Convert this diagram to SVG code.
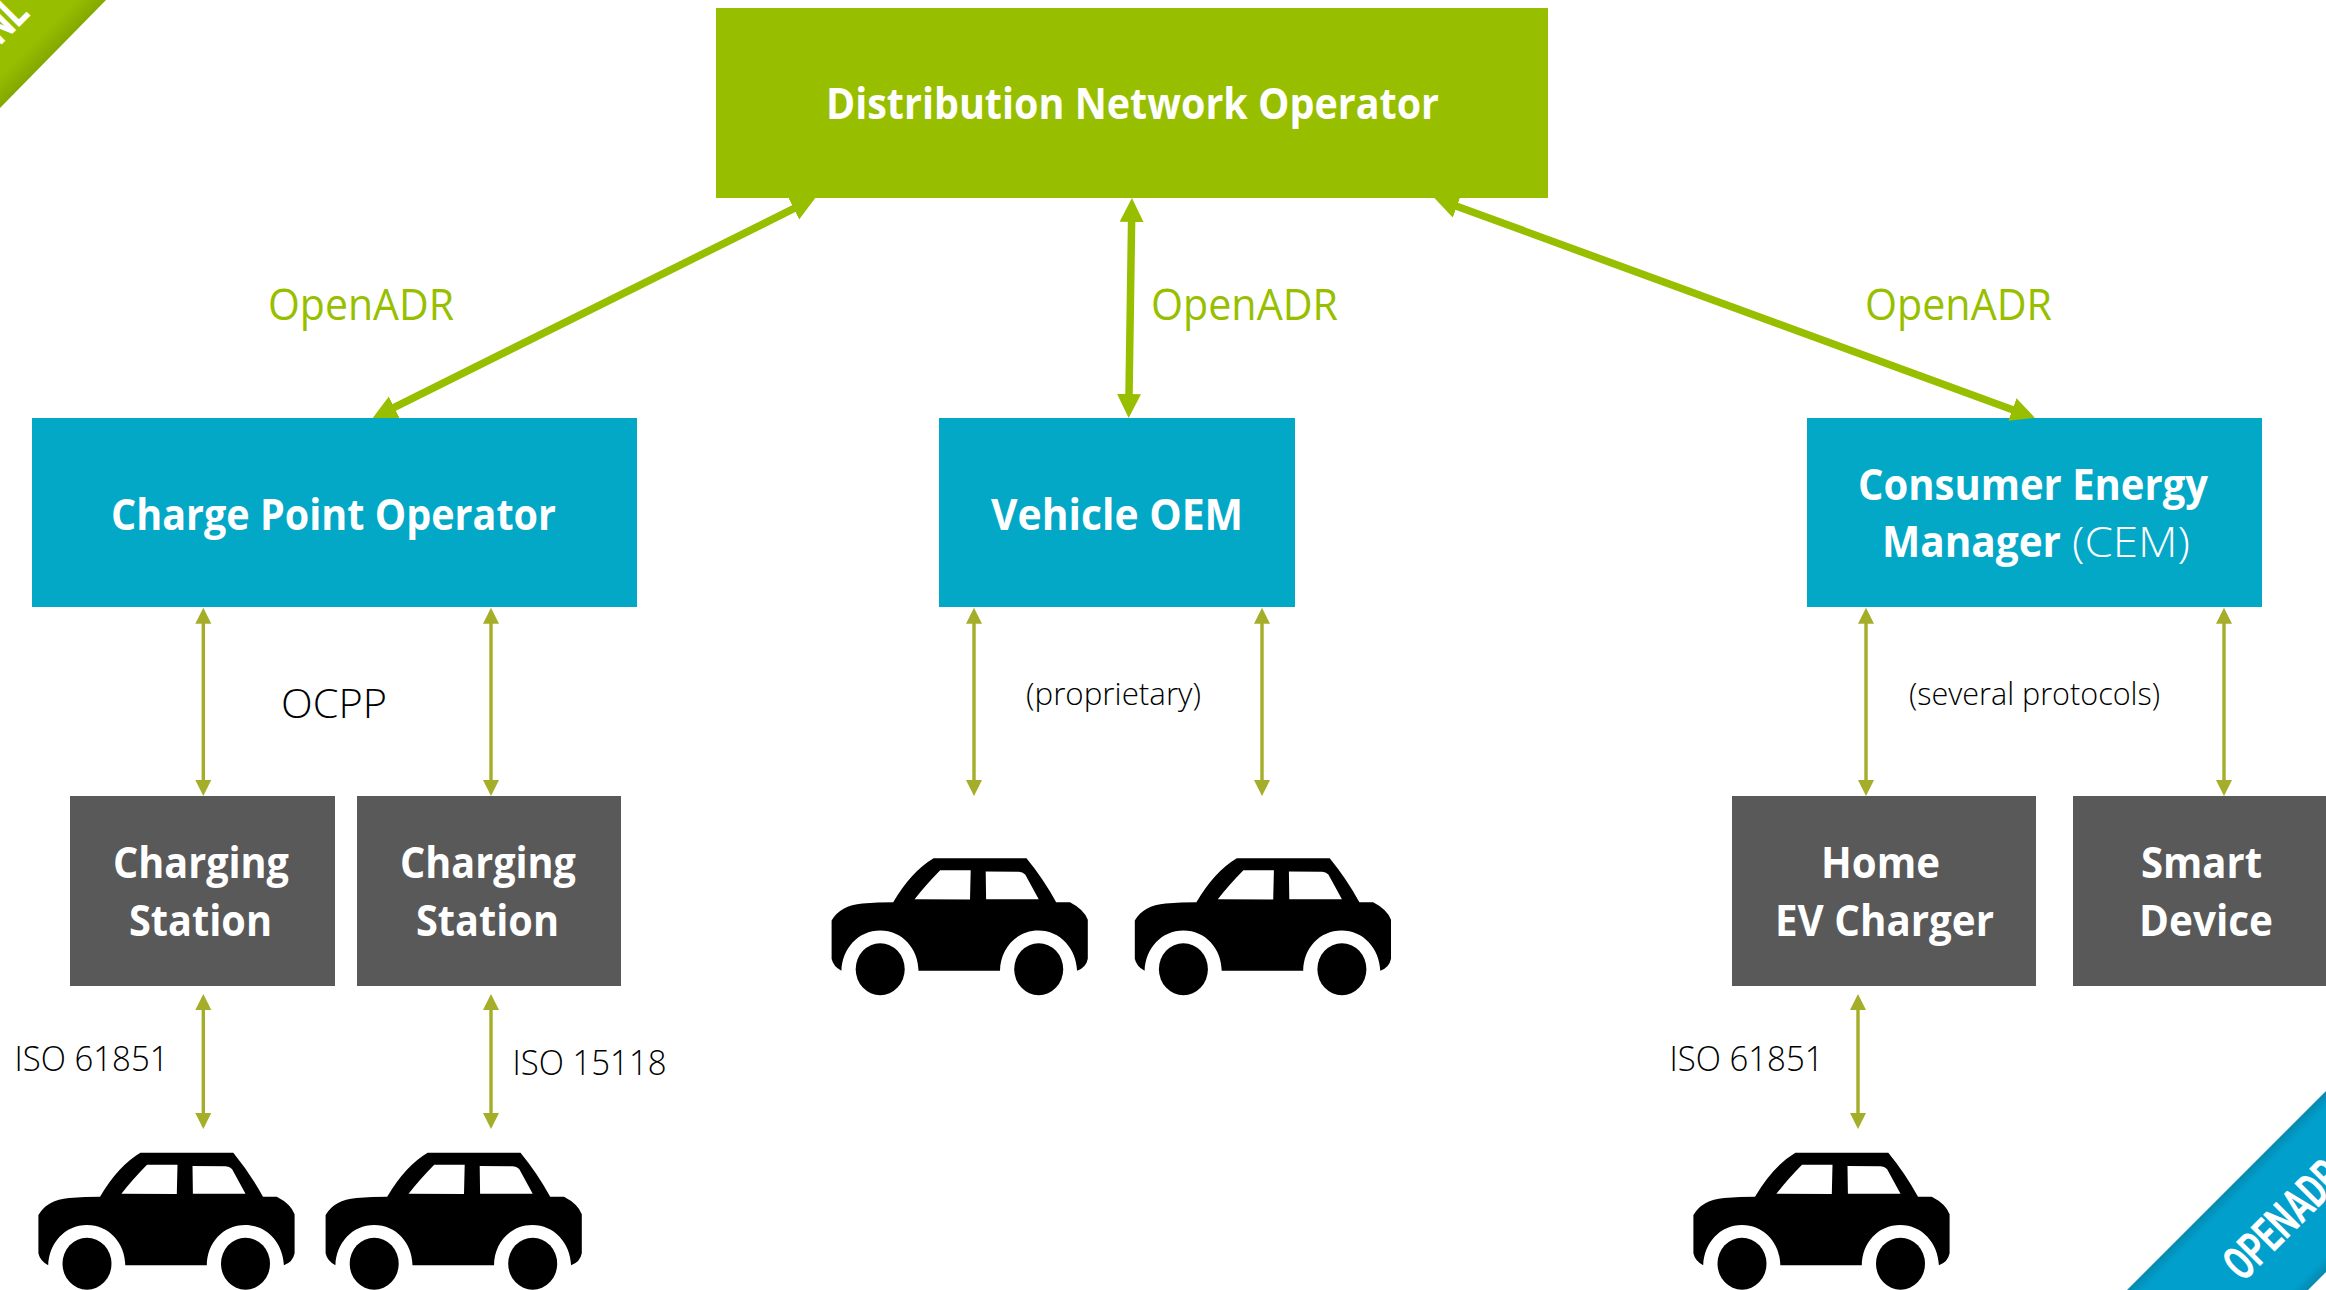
<svg xmlns="http://www.w3.org/2000/svg" width="2326" height="1290" viewBox="0 0 2326 1290">
<style>
text{font-family:"Open Sans","Noto Sans","Liberation Sans",sans-serif}
.box-g{fill:#97BF00}.box-b{fill:#03A8C7}.box-d{fill:#595959}
.t{font-size:43px;font-weight:700;fill:#fff}
.tl{font-size:43px;font-weight:300;fill:#fff}
.adr{font-size:44px;font-weight:400;fill:#97BF00}
.lbl{font-weight:300;fill:#000}
.thick{stroke:#97BF00;stroke-width:7.5;fill:none;marker-start:url(#mThick);marker-end:url(#mThick)}
.thin{stroke:#A4AE28;stroke-width:3.4;fill:none;marker-start:url(#mThin);marker-end:url(#mThin)}
.rib{font-family:"Roboto","Liberation Sans",sans-serif;font-weight:700;font-size:48px;fill:#fff}
</style>
<defs>
<marker id="mThick" markerUnits="userSpaceOnUse" markerWidth="26" markerHeight="26" refX="1" refY="12" orient="auto-start-reverse"><path d="M0,0L24,12L0,24z" fill="#97BF00"/></marker>
<marker id="mThin" markerUnits="userSpaceOnUse" markerWidth="18" markerHeight="18" refX="1" refY="8" orient="auto-start-reverse"><path d="M0,0L16,8L0,16z" fill="#A4AE28"/></marker>
<linearGradient id="gG" gradientUnits="userSpaceOnUse" x1="53.5" y1="53.5" x2="38" y2="38"><stop offset="0" stop-color="#84A800"/><stop offset="1" stop-color="#97BF00"/></linearGradient>
<linearGradient id="gB" gradientUnits="userSpaceOnUse" x1="2272" y1="1145" x2="2362.5" y2="1235.5"><stop offset="0" stop-color="#0689B0"/><stop offset="0.09" stop-color="#009FCC"/><stop offset="0.91" stop-color="#009FCC"/><stop offset="1" stop-color="#0689B0"/></linearGradient>
<g id="car">
<path fill-rule="evenodd" d="M140.4,52.7L233.3,52.7Q250,73 263,96.7L276.8,96.7Q291,104 294.6,114.3L294.6,153.3Q293,162 283.9,165.3C283,143 267,125 245.2,125C223,125 207,143 206.8,165.3L125.3,165.3C125,143 109,125 87,125C65,125 49,143 48.2,165.3Q40,161 38.4,153.3L38.4,115Q47,100 69.2,98Q85,96.7 100,96.7Q118,66 140.4,52.7ZM147,64.7Q132,80 121.4,93.7L176.8,94L177.5,64.7ZM192.5,66L192.9,93.7L245.5,93.7L232,69Q229,66 225,66.3Z"/>
<ellipse cx="87" cy="163.7" rx="24.5" ry="26"/><ellipse cx="245.5" cy="163.7" rx="24.5" ry="26"/>
</g>
</defs>
<rect width="2326" height="1290" fill="#fff"/>

<g id="ribbon-green"><path d="M0,0H106L0,108z" fill="url(#gG)"/><text class="rib" x="0" y="46" textLength="44" lengthAdjust="spacingAndGlyphs" transform="rotate(-45 0 46)">NL</text></g>
<g id="ribbon-blue"><path d="M2326,1091V1272L2308,1290H2127z" fill="url(#gB)"/><text class="rib" x="2243" y="1283" textLength="146" lengthAdjust="spacingAndGlyphs" transform="rotate(-45 2243 1283)">OPENADR</text></g>

<g id="node-dno"><rect class="box-g" x="716" y="8" width="832" height="190"/><text class="t" x="826" y="119" textLength="613" lengthAdjust="spacingAndGlyphs">Distribution Network Operator</text></g>
<g id="node-cpo"><rect class="box-b" x="32" y="418" width="605" height="189"/><text class="t" x="111" y="530" textLength="445" lengthAdjust="spacingAndGlyphs">Charge Point Operator</text></g>
<g id="node-oem"><rect class="box-b" x="939" y="418" width="356" height="189"/><text class="t" x="991" y="530" textLength="252" lengthAdjust="spacingAndGlyphs">Vehicle OEM</text></g>
<g id="node-cem"><rect class="box-b" x="1807" y="418" width="455" height="189"/><text class="t" x="1858" y="500" textLength="350" lengthAdjust="spacingAndGlyphs">Consumer Energy</text><text class="t" x="1882" y="557" textLength="179" lengthAdjust="spacingAndGlyphs">Manager</text><text class="tl" x="2072" y="557" textLength="118" lengthAdjust="spacingAndGlyphs">(CEM)</text></g>
<g id="node-cs1"><rect class="box-d" x="70" y="796" width="265" height="190"/><text class="t" x="113" y="878" textLength="176" lengthAdjust="spacingAndGlyphs">Charging</text><text class="t" x="129" y="936" textLength="143" lengthAdjust="spacingAndGlyphs">Station</text></g>
<g id="node-cs2"><rect class="box-d" x="357" y="796" width="264" height="190"/><text class="t" x="400" y="878" textLength="176" lengthAdjust="spacingAndGlyphs">Charging</text><text class="t" x="416" y="936" textLength="143" lengthAdjust="spacingAndGlyphs">Station</text></g>
<g id="node-home"><rect class="box-d" x="1732" y="796" width="304" height="190"/><text class="t" x="1821" y="878" textLength="119" lengthAdjust="spacingAndGlyphs">Home</text><text class="t" x="1775" y="936" textLength="219" lengthAdjust="spacingAndGlyphs">EV Charger</text></g>
<g id="node-smart"><rect class="box-d" x="2073" y="796" width="253" height="190"/><text class="t" x="2141" y="878" textLength="121" lengthAdjust="spacingAndGlyphs">Smart</text><text class="t" x="2139" y="936" textLength="134" lengthAdjust="spacingAndGlyphs">Device</text></g>

<g id="connectors">
<line class="thick" x1="393.3" y1="407.8" x2="794.7" y2="208.2"/>
<line class="thick" x1="1131.6" y1="221" x2="1129" y2="395"/>
<line class="thick" x1="1456" y1="206" x2="2013.3" y2="409.9"/>
<line class="thin" x1="203.3" y1="622.7" x2="203.3" y2="781"/>
<line class="thin" x1="491" y1="622.7" x2="491" y2="781"/>
<line class="thin" x1="974" y1="622.7" x2="974" y2="781"/>
<line class="thin" x1="1262" y1="622.7" x2="1262" y2="781"/>
<line class="thin" x1="1866" y1="622.7" x2="1866" y2="781"/>
<line class="thin" x1="2224" y1="622.7" x2="2224" y2="781"/>
<line class="thin" x1="203.3" y1="1009" x2="203.3" y2="1114"/>
<line class="thin" x1="491" y1="1009" x2="491" y2="1114"/>
<line class="thin" x1="1858" y1="1009" x2="1858" y2="1114"/>
</g>

<g id="labels">
<text class="adr" x="268" y="320" textLength="186" lengthAdjust="spacingAndGlyphs">OpenADR</text>
<text class="adr" x="1151" y="320" textLength="187" lengthAdjust="spacingAndGlyphs">OpenADR</text>
<text class="adr" x="1865" y="320" textLength="187" lengthAdjust="spacingAndGlyphs">OpenADR</text>
<text class="lbl" x="281" y="718" font-size="41" textLength="106" lengthAdjust="spacingAndGlyphs">OCPP</text>
<text class="lbl" x="1026" y="705" font-size="31" textLength="175" lengthAdjust="spacingAndGlyphs">(proprietary)</text>
<text class="lbl" x="1909" y="705" font-size="31" textLength="251" lengthAdjust="spacingAndGlyphs">(several protocols)</text>
<text class="lbl" x="14.5" y="1071" font-size="34" textLength="154" lengthAdjust="spacingAndGlyphs">ISO 61851</text>
<text class="lbl" x="512.5" y="1075" font-size="34" textLength="154" lengthAdjust="spacingAndGlyphs">ISO 15118</text>
<text class="lbl" x="1669.5" y="1071" font-size="34" textLength="154" lengthAdjust="spacingAndGlyphs">ISO 61851</text>
</g>

<use id="car-1" href="#car" transform="translate(0,1100)"/>
<use id="car-2" href="#car" transform="translate(287.2,1100)"/>
<use id="car-3" href="#car" transform="translate(793.2,805.5)"/>
<use id="car-4" href="#car" transform="translate(1096.4,805.5)"/>
<use id="car-5" href="#car" transform="translate(1655,1100)"/>
</svg>
